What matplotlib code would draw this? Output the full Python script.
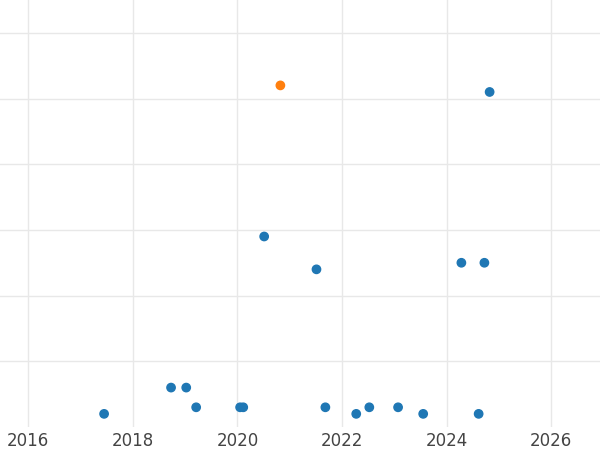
import matplotlib
matplotlib.use("Agg")
import matplotlib.pyplot as plt

years = [2017.45, 2018.73, 2019.02, 2019.21, 2020.05, 2020.11, 2020.51, 2020.82, 2021.51,
         2021.68, 2022.27, 2022.52, 2023.07, 2023.55, 2024.28, 2024.61, 2024.72, 2024.82]
values = [0.2, 0.6, 0.6, 0.3, 0.3, 0.3, 2.9, 5.2, 2.4, 0.3, 0.2, 0.3, 0.3, 0.2, 2.5, 0.2, 2.5, 5.1]
colors = ['#1f77b4'] * len(years)
colors[7] = '#ff7f0e'
xticks = [2016, 2018, 2020, 2022, 2024, 2026]

fig = plt.figure(figsize=(6, 4.5), dpi=100)
ax = fig.add_axes([0, 23/450, 1, 427/450])
ax.scatter(years, values, c=colors, s=36, zorder=3)
ax.set_xlim(2015.46, 2026.93)
ax.set_ylim(0, 6.5)
ax.set_xticks(xticks)
ax.set_xticklabels([str(t) for t in xticks], fontsize=12, color='#444444')
ax.set_yticks([1, 2, 3, 4, 5, 6])
ax.set_yticklabels([])
ax.tick_params(length=0)
ax.grid(True, color='#e8e8e8', linewidth=1)
for s in ax.spines.values():
    s.set_visible(False)
fig.savefig("out.png")
